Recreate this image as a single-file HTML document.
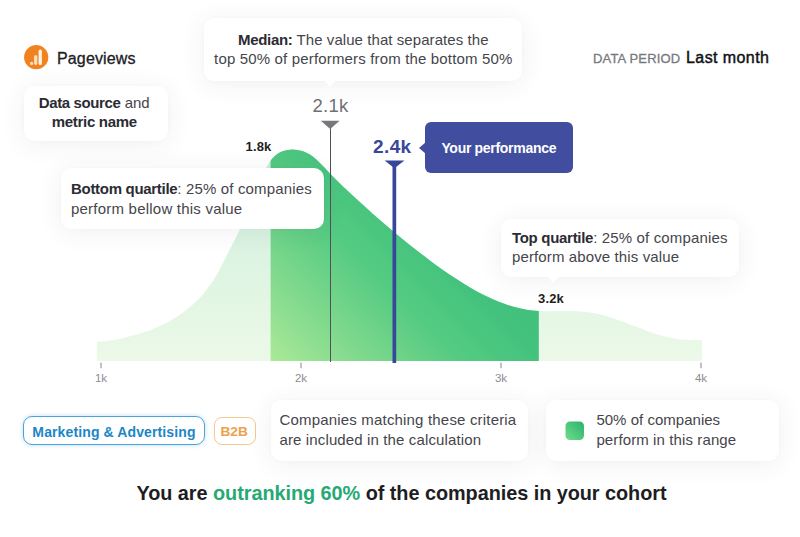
<!DOCTYPE html>
<html lang="en">
<head>
<meta charset="utf-8">
<title>Benchmark – Pageviews</title>
<style>
  html,body{margin:0;padding:0;background:#fff;}
  body{width:800px;height:537px;position:relative;overflow:hidden;
       font-family:"Liberation Sans",Arial,sans-serif;color:#45454b;}
  .abs{position:absolute;}
  .card{position:absolute;background:#fff;border-radius:10px;
        box-shadow:0 3px 26px rgba(60,60,90,.075),0 0 4px rgba(60,60,90,.02);box-sizing:border-box;}
  .txt{position:absolute;white-space:nowrap;letter-spacing:.15px;}
  b{font-weight:700;color:#2b2b33;letter-spacing:-.3px;}
  .ptr{position:absolute;width:0;height:0;border-left:6px solid transparent;border-right:6px solid transparent;border-top:7px solid #fff;}
</style>
</head>
<body>

<!-- chart -->
<svg class="abs" style="left:0;top:0" width="800" height="537" viewBox="0 0 800 537">
  <defs>
    <linearGradient id="lg" gradientUnits="userSpaceOnUse" x1="0" y1="150" x2="0" y2="361">
      <stop offset="0" stop-color="#cdeedb"/>
      <stop offset="1" stop-color="#ecf9e8"/>
    </linearGradient>
    <linearGradient id="dg" gradientUnits="userSpaceOnUse" x1="271" y1="361" x2="480" y2="150">
      <stop offset="0" stop-color="#abe998"/>
      <stop offset="0.22" stop-color="#80d98d"/>
      <stop offset="0.45" stop-color="#55cb82"/>
      <stop offset="0.65" stop-color="#43c27d"/>
      <stop offset="1" stop-color="#3abd79"/>
    </linearGradient>
    <clipPath id="mid"><rect x="270.6" y="100" width="268.2" height="261"/></clipPath>
    <linearGradient id="sq" x1="0" y1="1" x2="1" y2="0">
      <stop offset="0" stop-color="#72dc8a"/>
      <stop offset="1" stop-color="#27b36e"/>
    </linearGradient>
  </defs>
  <path fill="url(#lg)" d="M96.8,361 L96.8,342.1 C98.7,341.9 104.1,341.4 108.0,340.8 C111.9,340.3 116.0,339.5 120.0,338.7 C124.0,337.9 128.0,336.9 132.0,335.8 C136.0,334.8 140.0,333.6 144.0,332.2 C148.0,330.9 152.0,329.4 156.0,327.7 C160.0,326.0 164.0,324.2 168.0,322.0 C172.0,319.8 176.0,317.5 180.0,314.7 C184.0,311.9 188.0,308.8 192.0,305.2 C196.0,301.6 200.0,297.8 204.0,292.9 C208.0,288.1 212.0,282.7 216.0,276.1 C220.0,269.4 224.0,260.8 228.0,253.0 C232.0,245.1 236.0,237.6 240.0,229.0 C244.0,220.3 248.7,209.0 252.0,201.0 C255.3,193.0 257.8,186.2 260.0,181.0 C262.2,175.8 263.3,173.2 265.0,169.9 C266.7,166.6 268.3,163.7 270.0,161.3 C271.7,159.0 273.3,157.2 275.0,155.7 C276.7,154.2 278.3,153.2 280.0,152.3 C281.7,151.4 283.3,150.9 285.0,150.5 C286.7,150.0 288.3,149.8 290.0,149.7 C291.7,149.5 293.3,149.5 295.0,149.7 C296.7,149.8 298.3,150.0 300.0,150.4 C301.7,150.7 303.3,151.2 305.0,151.9 C306.7,152.6 308.3,153.5 310.0,154.5 C311.7,155.6 313.3,156.8 315.0,158.2 C316.7,159.6 318.3,161.2 320.0,162.9 C321.7,164.5 323.3,166.4 325.0,168.1 C326.7,169.9 328.3,171.7 330.0,173.4 C331.7,175.1 333.3,176.8 335.0,178.5 C336.7,180.2 338.3,181.8 340.0,183.5 C341.7,185.1 341.8,185.3 345.0,188.3 C348.2,191.3 354.3,197.1 359.0,201.3 C363.7,205.6 368.3,209.7 373.0,213.9 C377.7,218.0 382.3,222.0 387.0,226.0 C391.7,230.0 396.3,233.9 401.0,237.7 C405.7,241.5 410.3,245.3 415.0,249.0 C419.7,252.6 424.3,256.2 429.0,259.7 C433.7,263.2 438.3,266.6 443.0,269.9 C447.7,273.1 452.3,276.3 457.0,279.3 C461.7,282.3 466.3,285.2 471.0,287.9 C475.7,290.6 480.3,293.1 485.0,295.4 C489.7,297.7 494.3,299.9 499.0,301.7 C503.7,303.6 508.3,305.2 513.0,306.6 C517.7,307.9 522.3,309.0 527.0,309.7 C531.7,310.5 536.3,310.9 541.0,311.1 C545.7,311.4 550.3,311.2 555.0,311.2 C559.7,311.2 564.3,311.0 569.0,311.1 C573.7,311.2 578.3,311.3 583.0,311.7 C587.7,312.2 592.3,312.8 597.0,313.8 C601.7,314.7 606.3,316.0 611.0,317.4 C615.7,318.9 620.3,320.6 625.0,322.4 C629.7,324.1 634.3,326.1 639.0,327.8 C643.7,329.6 648.3,331.4 653.0,333.0 C657.7,334.5 662.3,336.0 667.0,337.1 C671.7,338.2 676.3,339.0 681.0,339.5 C685.7,340.0 691.5,339.9 695.0,340.1 C698.5,340.2 700.8,340.2 702.0,340.2 L702,361 Z"/>
  <path fill="url(#dg)" clip-path="url(#mid)" d="M96.8,361 L96.8,342.1 C98.7,341.9 104.1,341.4 108.0,340.8 C111.9,340.3 116.0,339.5 120.0,338.7 C124.0,337.9 128.0,336.9 132.0,335.8 C136.0,334.8 140.0,333.6 144.0,332.2 C148.0,330.9 152.0,329.4 156.0,327.7 C160.0,326.0 164.0,324.2 168.0,322.0 C172.0,319.8 176.0,317.5 180.0,314.7 C184.0,311.9 188.0,308.8 192.0,305.2 C196.0,301.6 200.0,297.8 204.0,292.9 C208.0,288.1 212.0,282.7 216.0,276.1 C220.0,269.4 224.0,260.8 228.0,253.0 C232.0,245.1 236.0,237.6 240.0,229.0 C244.0,220.3 248.7,209.0 252.0,201.0 C255.3,193.0 257.8,186.2 260.0,181.0 C262.2,175.8 263.3,173.2 265.0,169.9 C266.7,166.6 268.3,163.7 270.0,161.3 C271.7,159.0 273.3,157.2 275.0,155.7 C276.7,154.2 278.3,153.2 280.0,152.3 C281.7,151.4 283.3,150.9 285.0,150.5 C286.7,150.0 288.3,149.8 290.0,149.7 C291.7,149.5 293.3,149.5 295.0,149.7 C296.7,149.8 298.3,150.0 300.0,150.4 C301.7,150.7 303.3,151.2 305.0,151.9 C306.7,152.6 308.3,153.5 310.0,154.5 C311.7,155.6 313.3,156.8 315.0,158.2 C316.7,159.6 318.3,161.2 320.0,162.9 C321.7,164.5 323.3,166.4 325.0,168.1 C326.7,169.9 328.3,171.7 330.0,173.4 C331.7,175.1 333.3,176.8 335.0,178.5 C336.7,180.2 338.3,181.8 340.0,183.5 C341.7,185.1 341.8,185.3 345.0,188.3 C348.2,191.3 354.3,197.1 359.0,201.3 C363.7,205.6 368.3,209.7 373.0,213.9 C377.7,218.0 382.3,222.0 387.0,226.0 C391.7,230.0 396.3,233.9 401.0,237.7 C405.7,241.5 410.3,245.3 415.0,249.0 C419.7,252.6 424.3,256.2 429.0,259.7 C433.7,263.2 438.3,266.6 443.0,269.9 C447.7,273.1 452.3,276.3 457.0,279.3 C461.7,282.3 466.3,285.2 471.0,287.9 C475.7,290.6 480.3,293.1 485.0,295.4 C489.7,297.7 494.3,299.9 499.0,301.7 C503.7,303.6 508.3,305.2 513.0,306.6 C517.7,307.9 522.3,309.0 527.0,309.7 C531.7,310.5 536.3,310.9 541.0,311.1 C545.7,311.4 550.3,311.2 555.0,311.2 C559.7,311.2 564.3,311.0 569.0,311.1 C573.7,311.2 578.3,311.3 583.0,311.7 C587.7,312.2 592.3,312.8 597.0,313.8 C601.7,314.7 606.3,316.0 611.0,317.4 C615.7,318.9 620.3,320.6 625.0,322.4 C629.7,324.1 634.3,326.1 639.0,327.8 C643.7,329.6 648.3,331.4 653.0,333.0 C657.7,334.5 662.3,336.0 667.0,337.1 C671.7,338.2 676.3,339.0 681.0,339.5 C685.7,340.0 691.5,339.9 695.0,340.1 C698.5,340.2 700.8,340.2 702.0,340.2 L702,361 Z"/>
  <!-- median -->
  <rect x="330" y="127" width="1" height="235" fill="#505055"/>
  <path d="M320.8,120.8 L339.6,120.8 L330.2,129 Z" fill="#77777c"/>
  <!-- performance -->
  <rect x="392.5" y="166" width="3.7" height="197" fill="#39479a"/>
  <path d="M384.6,160.6 L404.4,160.6 L394.5,168.2 Z" fill="#39479a"/>
  <!-- ticks -->
  <g fill="#85858a">
    <rect x="100.5" y="362.6" width="1" height="5.6"/>
    <rect x="300.5" y="362.6" width="1" height="5.6"/>
    <rect x="500.5" y="362.6" width="1" height="5.6"/>
    <rect x="700.5" y="362.6" width="1" height="5.6"/>
  </g>
  <g font-family="Liberation Sans, Arial, sans-serif" font-size="11.5" fill="#8c8c91" text-anchor="middle">
    <text x="101" y="381.8">1k</text>
    <text x="301" y="381.8">2k</text>
    <text x="501" y="381.8">3k</text>
    <text x="701" y="381.8">4k</text>
  </g>
</svg>

<!-- header -->
<svg class="abs" style="left:23.9px;top:45.1px" width="25" height="25" viewBox="0 0 25 25">
  <circle cx="12.2" cy="12.2" r="12.1" fill="#f0831f"/>
  <rect x="14.6" y="4.6" width="3.3" height="15.4" rx="1.5" fill="#fff3e4"/>
  <rect x="10.1" y="10.2" width="3.2" height="9.8" rx="1.4" fill="#fde0c0"/>
  <circle cx="7.6" cy="18.4" r="1.6" fill="#fde0c0"/>
</svg>
<div class="txt" style="left:57px;top:48.5px;font-size:16px;line-height:20px;color:#202024;letter-spacing:.14px;-webkit-text-stroke:.3px #202024;">Pageviews</div>

<div class="txt" style="left:593px;top:51px;font-size:13px;line-height:16px;color:#77777c;letter-spacing:.17px;-webkit-text-stroke:.3px #7a7a7f;">DATA PERIOD</div>
<div class="txt" style="left:686px;top:48px;font-size:16px;line-height:20px;color:#111114;letter-spacing:.42px;-webkit-text-stroke:.45px #111114;">Last month</div>

<!-- data source card -->
<div class="card" style="left:24px;top:85.5px;width:143.5px;height:55.5px;"></div>
<div class="txt" style="left:22.5px;width:143.5px;top:93px;text-align:center;font-size:15px;line-height:19px;white-space:normal;letter-spacing:0;"><b style="letter-spacing:-.38px">Data source</b> and<br><b style="letter-spacing:-.3px">metric name</b></div>

<!-- median card -->
<div class="card" style="left:204px;top:18px;width:318px;height:62.5px;"></div>
<div class="ptr" style="left:324px;top:79.8px;"></div>
<div class="txt" style="left:199.8px;width:327px;top:29.8px;text-align:center;font-size:15px;line-height:19px;white-space:normal;letter-spacing:.07px;"><b>Median:</b> The value that separates the<br><span style="letter-spacing:.16px">top 50% of performers from the bottom 50%</span></div>

<div class="txt" style="left:300px;width:61px;text-align:center;top:94.5px;font-size:18.5px;line-height:22px;color:#6f6f74;letter-spacing:.3px;">2.1k</div>
<div class="txt" style="left:245.5px;top:138.6px;font-size:13px;line-height:16px;font-weight:700;color:#1f1f24;">1.8k</div>
<div class="txt" style="left:373px;top:136.3px;font-size:19px;line-height:22px;font-weight:700;color:#39479a;letter-spacing:.4px;">2.4k</div>
<div class="txt" style="left:538px;top:291.2px;font-size:13px;line-height:16px;font-weight:700;color:#1f1f24;">3.2k</div>

<!-- your performance -->
<div class="abs" style="left:424.5px;top:122px;width:148.5px;height:51px;border-radius:6px;background:#414e9f;"></div>
<div class="abs" style="left:418.5px;top:141.5px;width:0;height:0;border-top:6px solid transparent;border-bottom:6px solid transparent;border-right:7px solid #414e9f;"></div>
<div class="txt" style="left:424.5px;width:148.5px;text-align:center;top:138.6px;font-size:14px;line-height:18px;font-weight:700;color:#fff;letter-spacing:-.3px;">Your performance</div>

<!-- bottom quartile card -->
<div class="card" style="left:60.5px;top:168.2px;width:263px;height:61.3px;"></div>
<div class="txt" style="left:71px;top:179.3px;font-size:15px;line-height:19.5px;"><b>Bottom quartile</b>: 25% of companies<br><span style="letter-spacing:.22px">perform bellow this value</span></div>

<!-- top quartile card -->
<div class="card" style="left:500.5px;top:218.5px;width:238.5px;height:58px;"></div>
<div class="ptr" style="left:547px;top:276px;"></div>
<div class="txt" style="left:512px;top:227.5px;font-size:15px;line-height:19px;"><b>Top quartile</b>: 25% of companies<br><span style="letter-spacing:.12px">perform above this value</span></div>

<!-- tags -->
<div class="abs" style="left:23px;top:416.4px;width:182px;height:29px;box-sizing:border-box;border:1.5px solid #4aa3da;border-radius:9px;box-shadow:0 0 4px rgba(58,155,216,.35);"></div>
<div class="txt" style="left:23px;width:182px;text-align:center;top:422.6px;font-size:14px;line-height:18px;font-weight:700;color:#1b87c6;letter-spacing:.12px;">Marketing &amp; Advertising</div>
<div class="abs" style="left:214px;top:416.8px;width:42px;height:28.4px;box-sizing:border-box;border:1.5px solid #f3c98f;border-radius:8px;"></div>
<div class="txt" style="left:213.2px;width:42px;text-align:center;top:422.6px;font-size:13.7px;line-height:18px;font-weight:700;color:#eba24b;letter-spacing:0;">B2B</div>

<!-- companies matching card -->
<div class="card" style="left:271px;top:399.8px;width:257px;height:61.2px;"></div>
<div class="txt" style="left:279.5px;top:410.3px;font-size:15px;line-height:19.3px;letter-spacing:.18px;">Companies matching these criteria<br><span style="letter-spacing:.13px">are included in the calculation</span></div>

<!-- 50% card -->
<div class="card" style="left:545.5px;top:399.8px;width:233.5px;height:61.2px;"></div>
<svg class="abs" style="left:565px;top:420.6px" width="20" height="20"><rect x="0.5" y="0.5" width="18.5" height="18.5" rx="4.5" fill="url(#sq)"/></svg>
<div class="txt" style="left:596.4px;top:410.3px;font-size:15px;line-height:19.5px;letter-spacing:.11px;"><span style="letter-spacing:.02px">50% of companies</span><br>perform in this range</div>

<!-- footer -->
<div class="txt" style="left:1.5px;width:800px;text-align:center;top:480.2px;font-size:19.85px;line-height:26px;font-weight:700;color:#1d1d22;letter-spacing:-.04px;">You are <span style="color:#27a974">outranking 60%</span> of the companies in your cohort</div>

</body>
</html>
